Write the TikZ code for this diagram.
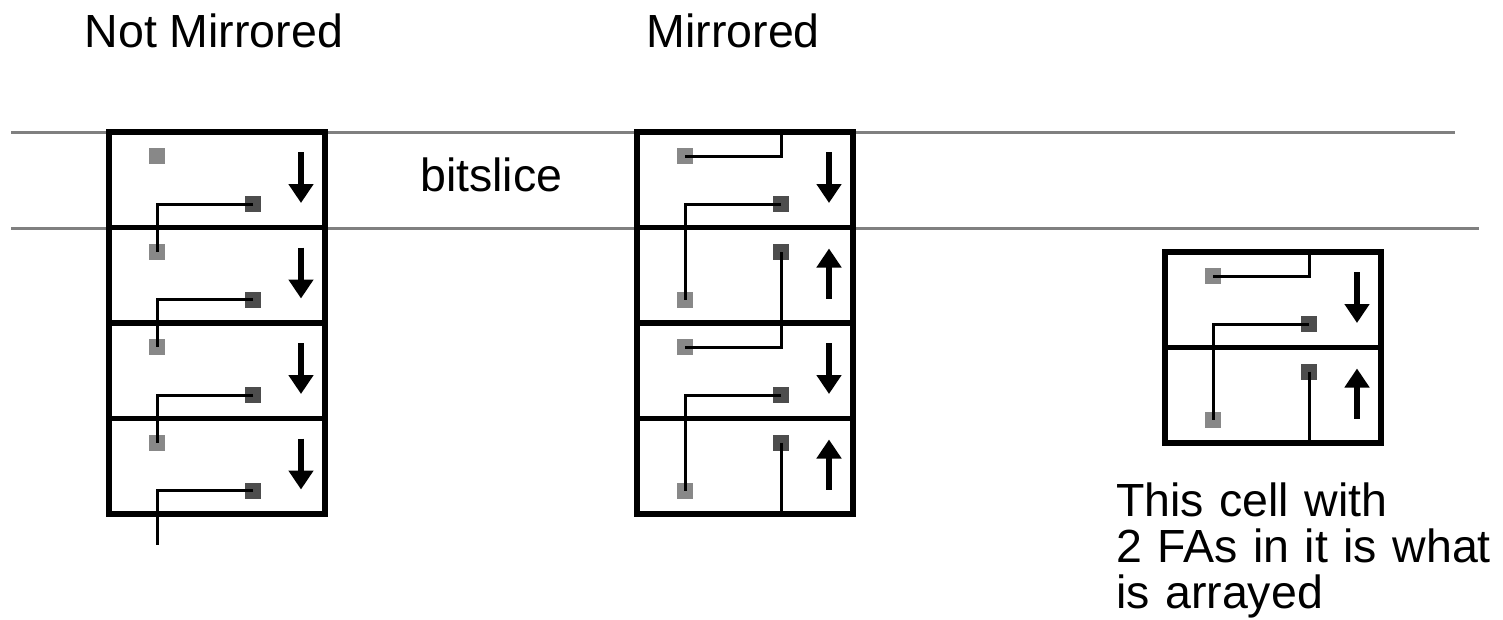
\documentclass[tikz,border=0pt]{standalone}
\usepackage{fontspec}
\setmainfont{Liberation Sans}
\usetikzlibrary{arrows.meta,positioning}
\definecolor{lightpin}{RGB}{136,136,136}
\definecolor{darkpin}{RGB}{77,77,77}
\definecolor{railgray}{RGB}{128,128,128}

\tikzset{
	cellbox/.style={draw,line width=5.2pt,minimum width=216pt,minimum height=95.5pt,inner sep=0pt,outer sep=0pt},
	inpin/.style={fill=lightpin,minimum size=16pt,inner sep=0pt},
	outpin/.style={fill=darkpin,minimum size=16pt,inner sep=0pt},
	wire/.style={line width=3pt},
	rail/.style={railgray,line width=3pt},
	flow/.style={line width=6pt,-{Triangle[width=24pt,length=19pt]}},
	heading/.style={font=\fontsize{46.5}{46}\selectfont,inner sep=0pt,anchor=base west}
}

\begin{document}
\begin{tikzpicture}[x=1pt,y=-1pt]
	\useasboundingbox (0,0) rectangle (1503,619);

	% bitslice rails
	\draw[rail] (11,132.3) -- (1455,132.3);
	\draw[rail] (11,228.3) -- (1479,228.3);

	% not mirrored
	\node[cellbox,anchor=north west] (nm1) at (109,132) {};
	\node[cellbox,below=0pt of nm1] (nm2) {};
	\node[cellbox,below=0pt of nm2] (nm3) {};
	\node[cellbox,below=0pt of nm3] (nm4) {};
	\foreach \i in {1,...,4} {
		\node[inpin] (nmin\i) at ([shift={(48,24)}]nm\i.north west) {};
		\node[outpin] (nmout\i) at ([shift={(144,72)}]nm\i.north west) {};
		\draw[flow] ([shift={(192,20)}]nm\i.north west) -- ([shift={(192,71)}]nm\i.north west);
	}
	\draw[wire] (nmout1.center) -| (nmin2.center);
	\draw[wire] (nmout2.center) -| (nmin3.center);
	\draw[wire] (nmout3.center) -| (nmin4.center);
	\coordinate (nmend) at ([shift={(48,31)}]nm4.south west);
	\draw[wire] (nmout4.center) -| (nmend);

	% mirrored
	\node[cellbox,anchor=north west] (m1) at (637,132) {};
	\node[cellbox,below=0pt of m1] (m2) {};
	\node[cellbox,below=0pt of m2] (m3) {};
	\node[cellbox,below=0pt of m3] (m4) {};
	\foreach \i in {1,3} {
		\node[inpin] (min\i) at ([shift={(48,24)}]m\i.north west) {};
		\node[outpin] (mout\i) at ([shift={(144,72)}]m\i.north west) {};
		\draw[flow] ([shift={(192,20)}]m\i.north west) -- ([shift={(192,71)}]m\i.north west);
	}
	\foreach \i in {2,4} {
		\node[outpin] (mout\i) at ([shift={(144,24)}]m\i.north west) {};
		\node[inpin] (min\i) at ([shift={(48,72)}]m\i.north west) {};
		\draw[flow] ([shift={(192,71)}]m\i.north west) -- ([shift={(192,21)}]m\i.north west);
	}
	\coordinate (mtop) at (mout1 |- m1.north);
	\coordinate (mbot) at (mout4 |- m4.south);
	\draw[wire] (min1.center) -| (mtop);
	\draw[wire] (mout1.center) -| (min2.center);
	\draw[wire] (min3.center) -| (mout2.center);
	\draw[wire] (mout3.center) -| (min4.center);
	\draw[wire] (mout4.center) -- (mbot);

	% arrayed cell
	\node[cellbox,anchor=north west] (a1) at (1165,252) {};
	\node[cellbox,below=0pt of a1] (a2) {};
	\node[inpin] (ain1) at ([shift={(48,24)}]a1.north west) {};
	\node[outpin] (aout1) at ([shift={(144,72)}]a1.north west) {};
	\node[outpin] (aout2) at ([shift={(144,24)}]a2.north west) {};
	\node[inpin] (ain2) at ([shift={(48,72)}]a2.north west) {};
	\draw[flow] ([shift={(192,20)}]a1.north west) -- ([shift={(192,71)}]a1.north west);
	\draw[flow] ([shift={(192,71)}]a2.north west) -- ([shift={(192,21)}]a2.north west);
	\coordinate (atop) at (aout1 |- a1.north);
	\coordinate (abot) at (aout2 |- a2.south);
	\draw[wire] (ain1.center) -| (atop);
	\draw[wire] (aout1.center) -| (ain2.center);
	\draw[wire] (aout2.center) -- (abot);

	\node[heading] (notmirrored) at (84.5,47) {Not Mirrored};
	\node[heading] (mirrored) at (646.5,47) {Mirrored};
	\node[heading] (bitslice) at (420,191.5) {bitslice};
	\node[heading,text width=385pt,align=left] (note) at (1116,516) {This cell with\\2 FAs in it is what\\is arrayed};
\end{tikzpicture}
\end{document}
